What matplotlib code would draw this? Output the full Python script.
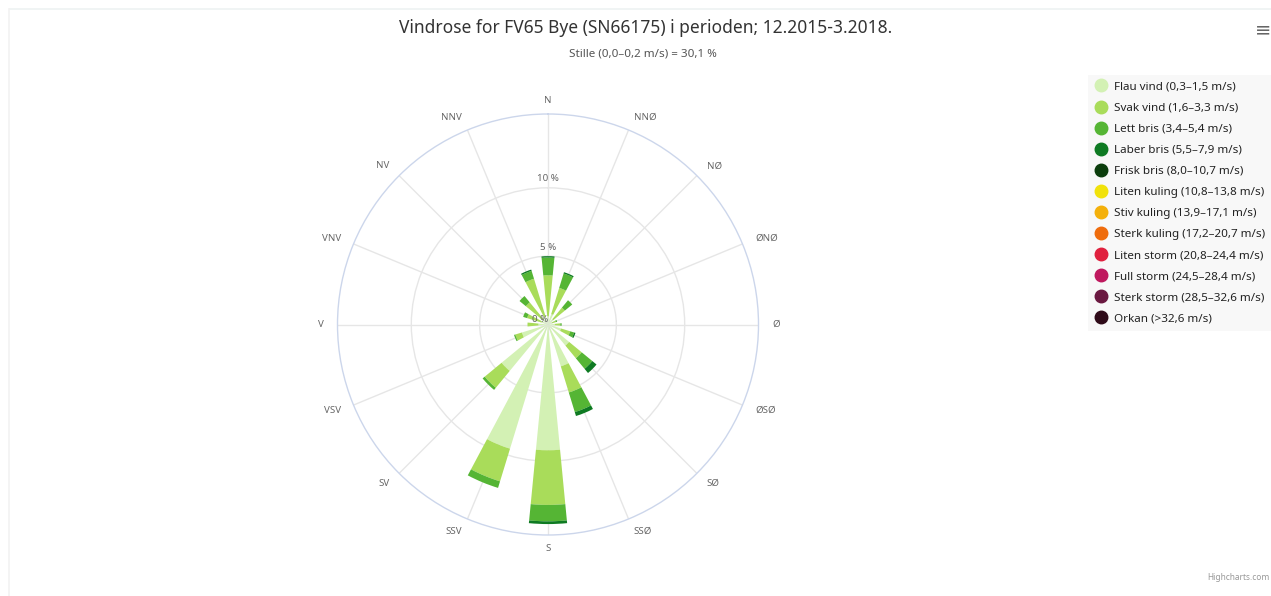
import numpy as np
import matplotlib
matplotlib.use("Agg")
import matplotlib.pyplot as plt
from matplotlib.lines import Line2D

plt.rcParams['font.family'] = ['Noto Sans', 'DejaVu Sans']

# wind directions (clockwise from north) and frequencies in % per speed class
directions = ["N", "NNØ", "NØ", "ØNØ", "Ø", "ØSØ", "SØ", "SSØ",
              "S", "SSV", "SV", "VSV", "V", "VNV", "NV", "NNV"]
flau  = [0.6, 0.8, 0.5, 0.3, 0.5, 1.0, 2.0, 3.2, 9.2, 9.5, 4.4, 2.0, 0.7, 0.5, 0.5, 0.6]
svak  = [3.0, 2.0, 1.1, 0.3, 0.4, 0.7, 1.2, 2.0, 4.0, 2.5, 1.6, 0.5, 0.8, 1.1, 1.6, 2.9]
lett  = [1.3, 1.1, 0.7, 0.1, 0.1, 0.3, 1.0, 1.5, 1.2, 0.5, 0.2, 0.1, 0.0, 0.3, 0.6, 0.6]
laber = [0.1, 0.1, 0.0, 0.0, 0.0, 0.1, 0.4, 0.3, 0.2, 0.0, 0.0, 0.0, 0.0, 0.0, 0.0, 0.1]
zeros = [0.0] * 16

series = [flau, svak, lett, laber] + [zeros] * 8
class_names = ["Flau vind (0,3–1,5 m/s)", "Svak vind (1,6–3,3 m/s)",
               "Lett bris (3,4–5,4 m/s)", "Laber bris (5,5–7,9 m/s)",
               "Frisk bris (8,0–10,7 m/s)", "Liten kuling (10,8–13,8 m/s)",
               "Stiv kuling (13,9–17,1 m/s)", "Sterk kuling (17,2–20,7 m/s)",
               "Liten storm (20,8–24,4 m/s)", "Full storm (24,5–28,4 m/s)",
               "Sterk storm (28,5–32,6 m/s)", "Orkan (>32,6 m/s)"]
class_colors = ["#d3f1b4", "#a9dc5a", "#55b534", "#0e7a22", "#0b3d0c", "#f1e20a",
                "#f4b00a", "#ef6c0c", "#e0203e", "#bf185e", "#6a1840", "#2e0a18"]

rticks = [0, 5, 10]
rmax = 15.4

fig = plt.figure(figsize=(12.71, 5.96), dpi=100)

# faint chart container border
fig.add_artist(Line2D([10/1271, 1], [1-9/596, 1-9/596], color="#eef2f2", lw=1.2))
fig.add_artist(Line2D([9/1271, 9/1271], [0, 1-9/596], color="#f2f2f2", lw=1.2))

ax = fig.add_axes([(548-210.5)/1271, 61/596, 421/1271, 421/596], projection="polar")
ax.set_theta_zero_location("N")
ax.set_theta_direction(-1)

theta = np.deg2rad(np.arange(16) * 22.5)
width = np.deg2rad(11)
bottom = np.zeros(16)
for vals, col in zip(series, class_colors):
    vals = np.array(vals)
    ax.bar(theta, vals, width=width, bottom=bottom, color=col, edgecolor="none",
           align="center", zorder=3)
    bottom += vals

ax.set_ylim(0, rmax)
ax.set_xticks(theta)
ax.set_xticklabels([])
ax.set_yticks([5, 10])
ax.set_yticklabels([])
ax.grid(True, color="#e6e6e6", lw=1)
ax.spines["polar"].set_color("#ccd6eb")
ax.spines["polar"].set_linewidth(1)
ax.set_facecolor("white")

# direction labels, left/right aligned like highcharts
for t, name in zip(theta, directions):
    s = np.sin(t)
    if abs(s) < 0.01:
        ha = "center"
    elif s > 0:
        ha = "left"
    else:
        ha = "right"
    ax.text(t, 16.4, name, ha=ha, va="center", fontsize=7, color="#666666")

# radial labels along the north line
for r in rticks:
    if r == 0:
        ax.text(0, 0.4, f"{r} %", ha="right", va="center", fontsize=7,
                color="#666666", zorder=5)
    else:
        ax.text(0, r + 0.65, f"{r} %", ha="center", va="center", fontsize=7,
                color="#666666", zorder=5)

fig.text(646/1271, 1-28/596, "Vindrose for FV65 Bye (SN66175) i perioden; 12.2015-3.2018.",
         ha="center", va="center", fontsize=12.5, color="#333333")
fig.text(643/1271, 1-54/596, "Stille (0,0–0,2 m/s) = 30,1 %", ha="center", va="center",
         fontsize=8.4, color="#555555")

handles = [Line2D([], [], marker="o", ls="none", markersize=9, color=c) for c in class_colors]
leg = fig.legend(handles, class_names, loc="upper left",
                 bbox_to_anchor=(1088/1271, 1-75/596), frameon=True,
                 prop={"size": 8.4},
                 labelspacing=0.85, handletextpad=0.5, borderpad=0.55,
                 handlelength=1.2, borderaxespad=0)
leg.get_frame().set_facecolor("#f7f7f7")
leg.get_frame().set_edgecolor("none")
leg.get_frame().set_boxstyle("square", pad=0)
for txt in leg.get_texts():
    txt.set_color("#222222")

fig.text(1263/1271, 1-30/596, "≡", ha="center", va="center", fontsize=14, color="#666666")
fig.text(1-2/1271, 1-578/596, "Highcharts.com", ha="right", va="center", fontsize=6,
         color="#999999")

fig.savefig("out.png", dpi=100)
